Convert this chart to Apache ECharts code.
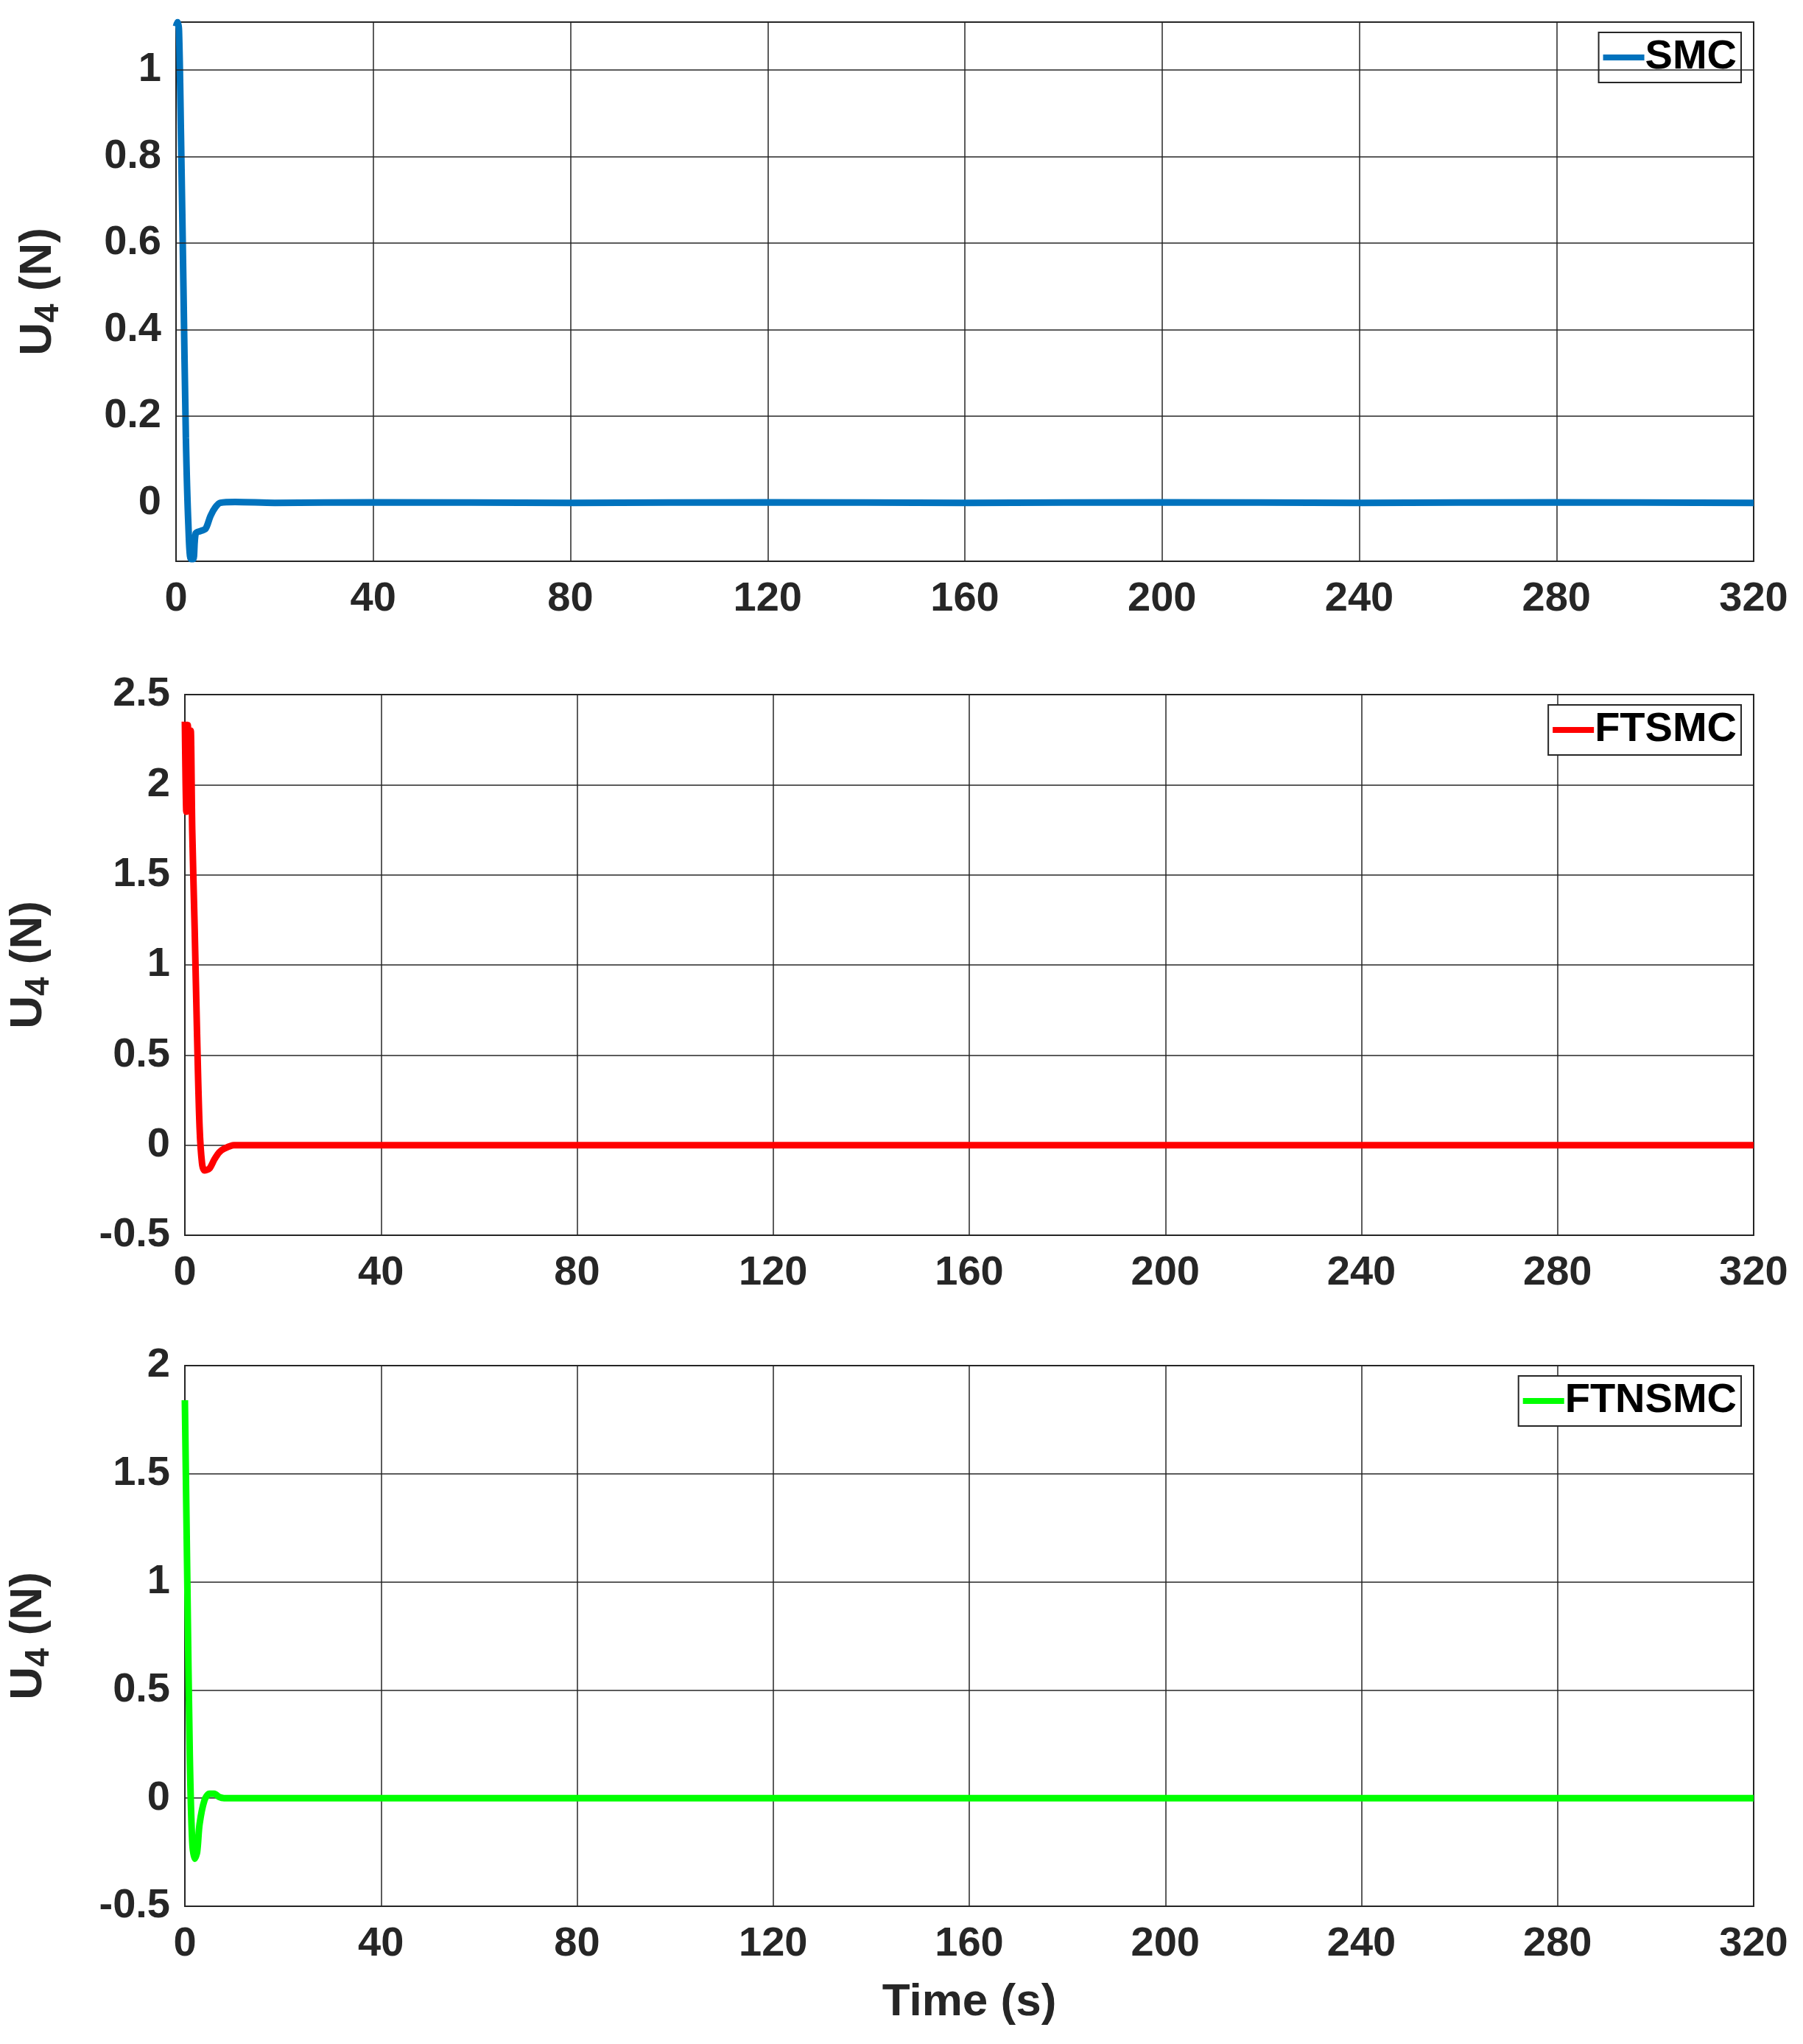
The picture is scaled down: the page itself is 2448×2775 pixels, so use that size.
<!DOCTYPE html>
<html><head><meta charset="utf-8">
<script src="https://cdn.jsdelivr.net/npm/echarts@6/dist/echarts.min.js"></script>
<style>html,body{margin:0;padding:0;background:#fff}#c{width:2448px;height:2775px}</style>
</head><body><div id="c"></div>
<script>
const xTicks = [0,40,80,120,160,200,240,280,320];
const smcTicks = [0,0.2,0.4,0.6,0.8,1];
const smcData = [[0,1.10],[0.3,1.11],[0.6,1.09],[1,0.85],[1.5,0.5],[2,0.15],[2.5,-0.05],[3,-0.13],[3.5,-0.13],[4,-0.07],[5,-0.065],[6,-0.06],[7,-0.03],[8,-0.01],[9,0],[12,0.002],[20,0],[40,0.001],[80,0],[120,0.001],[160,0],[200,0.001],[240,0],[280,0.001],[320,0]];
const ftsmcData = [[0,2.35],[0.3,1.85],[0.6,2.33],[0.9,1.9],[1.2,2.3],[1.5,1.75],[2,1.2],[2.5,0.6],[3,0.1],[3.5,-0.1],[4,-0.14],[5,-0.13],[6,-0.08],[7,-0.04],[8,-0.02],[10,0],[20,0],[80,0],[160,0],[240,0],[320,0]];
const ftnsmcData = [[0,1.84],[0.5,1.0],[1,0.2],[1.5,-0.2],[2,-0.28],[2.5,-0.25],[3,-0.12],[4,-0.01],[5,0.02],[6,0.02],[7,0.005],[8,0],[20,0],[80,0],[160,0],[240,0],[320,0]];
const panels = [
  {name:'SMC', color:'#0072BD', data:smcData, min:-0.135, max:1.11, interval:0.2, top:30, h:732},
  {name:'FTSMC', color:'#FF0000', data:ftsmcData, min:-0.5, max:2.5, interval:0.5, top:943, h:734},
  {name:'FTNSMC', color:'#00FF00', data:ftnsmcData, min:-0.5, max:2, interval:0.5, top:1854, h:734}
];
const font = {fontFamily:'Liberation Sans', fontWeight:'bold', color:'#262626', fontSize:56};
const chart = echarts.init(document.getElementById('c'));
const grid=[],xAxis=[],yAxis=[],series=[],legend=[];
panels.forEach((p,i)=>{
  grid.push({left:239, width:2142, top:p.top, height:p.h, show:true, borderColor:'#262626', borderWidth:2});
  xAxis.push({type:'value', gridIndex:i, min:0, max:320, interval:40,
    axisLine:{show:false}, axisTick:{show:false},
    axisLabel:Object.assign({margin:24},font),
    splitLine:{show:true, lineStyle:{color:'#262626', width:1.5}},
    name: i===2?'Time (s)':'', nameLocation:'middle', nameGap:100, nameTextStyle:Object.assign({},font,{fontSize:62})});
  const y = {type:'value', gridIndex:i, min:p.min, max:p.max,
    axisLine:{show:false}, axisTick:{show:false},
    axisLabel:Object.assign({margin:20},font),
    splitLine:{show:true, lineStyle:{color:'#262626', width:1.5}},
    name:'{a|U}{b|4}{a| (N)}', nameLocation:'middle', nameGap: i===0?150:175, nameRotate:90,
    nameTextStyle:{rich:{a:Object.assign({},font,{fontSize:62}),b:Object.assign({},font,{fontSize:46,padding:[28,0,0,0]})}}};
  if(i===0){
    y.axisLabel.customValues = smcTicks;
    y.axisTick.customValues = smcTicks;
    y.splitLine.show = false;
  } else y.interval = p.interval;
  yAxis.push(y);
  const s = {type:'line', name:p.name, xAxisIndex:i, yAxisIndex:i, data:p.data, showSymbol:false, smooth:0.3,
    lineStyle:{color:p.color, width:9}, itemStyle:{color:p.color}, z:3};
  series.push(s);
  if(i===0){
    series.push({type:'line', xAxisIndex:0, yAxisIndex:0, data:[], silent:true, z:1,
      markLine:{silent:true, symbol:'none', animation:false, label:{show:false},
        lineStyle:{color:'#262626', width:1.5, type:'solid'},
        data:smcTicks.slice(1).map(v=>({yAxis:v}))}});
  }
  legend.push({data:[p.name], right:2448-2364, top:p.top+14, orient:'vertical', backgroundColor:'#fff',
    borderColor:'#262626', borderWidth:2, borderRadius:0, padding:[6,6,6,6], itemWidth:56, itemHeight:8, itemGap:0,
    icon:'rect', textStyle:Object.assign({},font,{color:'#000',fontSize:56,padding:[0,0,0,-4]})});
});
chart.setOption({animation:false, backgroundColor:'#fff', grid, xAxis, yAxis, series, legend});
</script></body></html>
